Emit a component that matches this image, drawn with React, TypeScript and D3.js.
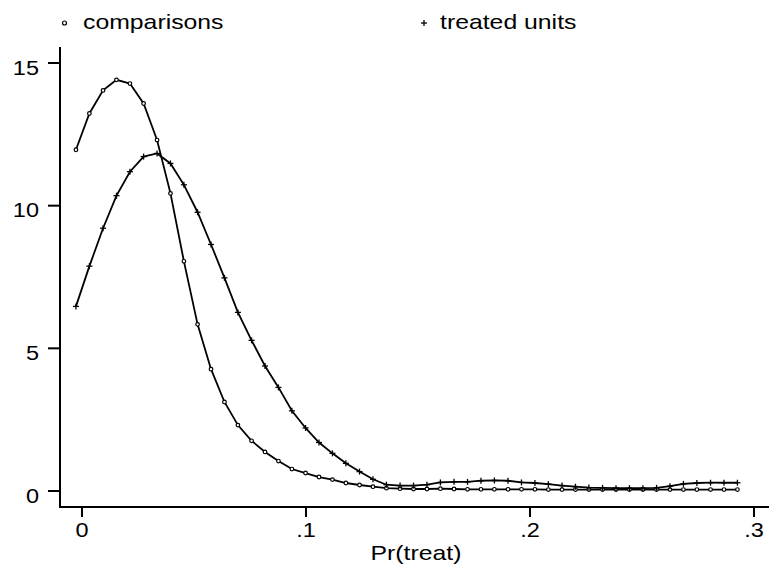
import React from "react";
import * as d3 from "d3";

const gridX = [-0.0027, 0.0033, 0.0094, 0.0154, 0.0214, 0.0275, 0.0335, 0.0395, 0.0455, 0.0516,
  0.0576, 0.0636, 0.0696, 0.0757, 0.0817, 0.0877, 0.0937, 0.0998, 0.1058, 0.1118,
  0.1178, 0.1239, 0.1299, 0.1359, 0.1420, 0.1480, 0.1540, 0.1600, 0.1661, 0.1721,
  0.1781, 0.1841, 0.1902, 0.1962, 0.2022, 0.2082, 0.2143, 0.2203, 0.2263, 0.2324,
  0.2384, 0.2444, 0.2504, 0.2565, 0.2625, 0.2685, 0.2745, 0.2806, 0.2866, 0.2926];

const comparisons = [11.96, 13.23, 14.04, 14.41, 14.28, 13.58, 12.30, 10.43, 8.05, 5.84,
  4.27, 3.12, 2.31, 1.76, 1.37, 1.05, 0.77, 0.63, 0.49, 0.40,
  0.28, 0.21, 0.15, 0.10, 0.08, 0.07, 0.07, 0.08, 0.07, 0.06,
  0.06, 0.06, 0.06, 0.06, 0.06, 0.05, 0.05, 0.05, 0.05, 0.05,
  0.05, 0.05, 0.05, 0.05, 0.05, 0.05, 0.05, 0.05, 0.05, 0.05];

const treated = [6.47, 7.88, 9.21, 10.35, 11.19, 11.72, 11.83, 11.48, 10.73, 9.77,
  8.64, 7.47, 6.26, 5.28, 4.38, 3.63, 2.81, 2.21, 1.70, 1.32,
  0.97, 0.68, 0.41, 0.22, 0.19, 0.19, 0.22, 0.30, 0.32, 0.32,
  0.36, 0.37, 0.36, 0.30, 0.28, 0.24, 0.19, 0.15, 0.12, 0.11,
  0.10, 0.10, 0.10, 0.11, 0.17, 0.25, 0.28, 0.29, 0.29, 0.29];

const xTicks = [0, 0.1, 0.2, 0.3];
const xTickLabels = ["0", ".1", ".2", ".3"];
const yTicks = [0, 5, 10, 15];
const legendLabels = ["comparisons", "treated units"];
const xTitle = "Pr(treat)";

const W = 769;
const H = 567;
const font = "'Liberation Sans', Arial, Helvetica, sans-serif";

function SText(props: { x: number; y: number; anchor?: string; size: number; sx: number; children: React.ReactNode }) {
  return (
    <g transform={`translate(${props.x},${props.y}) scale(${props.sx},1)`}>
      <text x={0} y={0} textAnchor={props.anchor || "start"} fontFamily={font} fontSize={props.size} fill="#000">
        {props.children}
      </text>
    </g>
  );
}

export default function App() {
  const x = d3.scaleLinear().domain([0, 0.3]).range([82, 754]);
  const y = d3.scaleLinear().domain([0, 15]).range([491, 63]);
  const line = d3.line<number>().x((_, i) => x(gridX[i])).y((d) => y(d));

  const axisX = 60;
  const axisY = 507;

  return (
    <svg width={W} height={H} style={{ position: "absolute", left: 0, top: 0, background: "#fff" }}>
      <rect x={0} y={0} width={W} height={H} fill="#fff" />
      {/* legend */}
      <circle cx={64.5} cy={23} r={2} fill="none" stroke="#000" strokeWidth={1.2} />
      <SText x={83} y={29} size={20} sx={1.24}>{legendLabels[0]}</SText>
      <g stroke="#000" strokeWidth={1.3}>
        <line x1={421} x2={427} y1={23} y2={23} />
        <line x1={424} x2={424} y1={20} y2={26} />
      </g>
      <SText x={440} y={29} size={20} sx={1.24}>{legendLabels[1]}</SText>

      {/* axes */}
      <line x1={axisX} x2={axisX} y1={47} y2={axisY + 1} stroke="#000" strokeWidth={2} />
      <line x1={axisX - 1} x2={W} y1={axisY} y2={axisY} stroke="#000" strokeWidth={2} />
      {yTicks.map((t) => (
        <g key={"y" + t}>
          <line x1={48} x2={axisX} y1={y(t)} y2={y(t)} stroke="#000" strokeWidth={2} />
          <SText x={39} y={y(t) + 11.5} anchor="end" size={21} sx={1.12}>{t}</SText>
        </g>
      ))}
      {xTicks.map((t, i) => (
        <g key={"x" + t}>
          <line x1={x(t)} x2={x(t)} y1={axisY} y2={axisY + 10} stroke="#000" strokeWidth={2} />
          <SText x={x(t)} y={537} anchor="middle" size={21} sx={1.12}>{xTickLabels[i]}</SText>
        </g>
      ))}
      <SText x={416} y={560} anchor="middle" size={20} sx={1.24}>{xTitle}</SText>

      {/* series */}
      <path d={line(comparisons) || ""} fill="none" stroke="#000" strokeWidth={1.8} />
      <path d={line(treated) || ""} fill="none" stroke="#000" strokeWidth={1.8} />
      {comparisons.map((v, i) => (
        <circle key={"c" + i} cx={x(gridX[i])} cy={y(v)} r={1.8} fill="#fff" stroke="#000" strokeWidth={1.2} />
      ))}
      {treated.map((v, i) => (
        <g key={"t" + i} stroke="#000" strokeWidth={1.3}>
          <line x1={x(gridX[i]) - 3} x2={x(gridX[i]) + 3} y1={y(v)} y2={y(v)} />
          <line x1={x(gridX[i])} x2={x(gridX[i])} y1={y(v) - 3} y2={y(v) + 3} />
        </g>
      ))}
    </svg>
  );
}
